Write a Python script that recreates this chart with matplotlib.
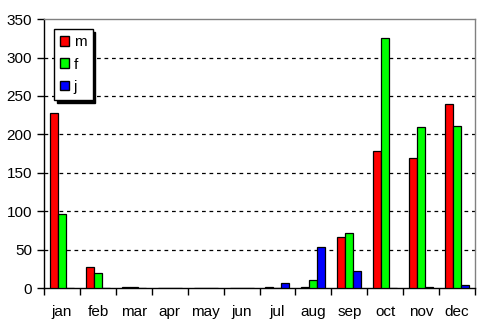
import numpy as np
import matplotlib.pyplot as plt
from matplotlib.patches import Patch

plt.rcParams['font.family'] = ['Liberation Sans', 'DejaVu Sans']

# Data
months = ['jan', 'feb', 'mar', 'apr', 'may', 'jun',
          'jul', 'aug', 'sep', 'oct', 'nov', 'dec']
m_vals = [228, 27, 1, 0, 0, 0, 1, 1, 67, 179, 169, 239]
f_vals = [97, 19, 2, 0, 0, 0, 0, 10, 72, 326, 209, 211]
j_vals = [0, 0, 0, 0, 0, 0, 7, 53, 22, 0, 1, 4]

series = [('m', m_vals, '#ff0000'), ('f', f_vals, '#00ff00'), ('j', j_vals, '#0000ff')]

fig = plt.figure(figsize=(5, 3.3), dpi=100)
ax = fig.add_axes([0.088, 0.127, 0.862, 0.815])

x = np.arange(len(months))
width = 0.222
for i, (name, vals, color) in enumerate(series):
    ax.bar(x + (i - 1) * width, vals, width, color=color, edgecolor='black',
           linewidth=0.9, label=name, zorder=3)

ax.set_xlim(-0.5, len(months) - 0.5)
ax.set_ylim(0, 350)
ax.set_yticks(range(0, 351, 50))
ax.set_xticks(x)
ax.set_xticklabels(months)
ax.set_xticks(np.arange(-0.5, len(months), 1), minor=True)
ax.tick_params(axis='x', which='major', length=0, pad=12, labelsize=11)
ax.tick_params(axis='x', which='minor', length=5, width=1, color='black', direction='out')
ax.tick_params(axis='y', length=5, width=1, direction='out', labelsize=11)

for y in range(50, 350, 50):
    ax.axhline(y, color='black', linestyle=(0, (3, 3)), linewidth=0.9, zorder=1)

ax.spines['top'].set_color('#808080')
ax.spines['right'].set_color('#808080')
ax.spines['left'].set_color('black')
ax.spines['bottom'].set_color('black')
for s in ax.spines.values():
    s.set_linewidth(1)

handles = [Patch(facecolor=c, edgecolor='black', label=n) for n, _, c in series]
leg = ax.legend(handles=handles, loc='upper left', bbox_to_anchor=(0.023, 0.963),
                frameon=True, fancybox=False, shadow={'color': 'black', 'alpha': 1},
                edgecolor='black', framealpha=1, fontsize=11,
                handlelength=0.6, handleheight=0.6, handletextpad=0.3,
                labelspacing=0.55, borderpad=0.4, borderaxespad=0)
leg.get_frame().set_linewidth(1)

fig.savefig('out.png', dpi=100)
